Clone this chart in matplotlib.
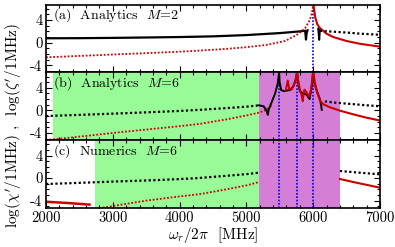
import numpy as np
import matplotlib
matplotlib.use('Agg')
import matplotlib.pyplot as plt
from matplotlib.ticker import MultipleLocator

plt.rcParams['font.family'] = 'serif'
plt.rcParams['font.serif'] = ['cmr10']
plt.rcParams['mathtext.fontset'] = 'cm'
plt.rcParams['axes.unicode_minus'] = False

# ---- data (log scale values) ----
# resonances (blue dotted lines)
res_a = [6000]
res_m6 = [5490, 5760, 6000]

# shaded regions
green_b = (2110, 5190)
green_c = (2730, 5190)
magenta = (5190, 6400)

# panel (a)
a_blk_x = [2000, 2500, 3000, 3500, 4000, 4500, 5000, 5500, 5800, 5880, 5892, 5900, 5915]
a_blk_y = [0.78, 0.80, 0.85, 0.92, 1.00, 1.12, 1.35, 1.70, 2.00, 2.12, 0.55, 1.60, 2.20]
a_red_dot_x = [2000, 2500, 3000, 3500, 4000, 4300, 4700, 5000, 5300, 5580, 5770, 5880, 5950, 5985, 6000]
a_red_dot_y = [-2.6, -2.35, -2.1, -1.85, -1.6, -1.4, -1.1, -0.8, -0.4, 0.3, 1.5, 2.6, 4.0, 5.5, 6.8]
a_red_x = [6002, 6010, 6030, 6060, 6100, 6200, 6300, 6500, 6700, 7000]
a_red_y = [6.8, 6.3, 4.5, 3.3, 2.6, 1.6, 1.0, 0.3, -0.2, -0.7]
a_spike_x = [6075, 6090, 6100]
a_spike_y = [2.5, 0.5, 2.2]
a_blk_dot_x = [6100, 6300, 6500, 6700, 7000]
a_blk_dot_y = [2.1, 1.95, 1.8, 1.6, 1.4]

# panel (b)
b_blk_dot_x = [2000, 2500, 3000, 3500, 4000, 4300, 4700, 5000, 5190]
b_blk_dot_y = [-1.0, -0.8, -0.58, -0.35, -0.1, 0.1, 0.4, 0.65, 0.9]
b_red_dot_x = [2000, 2300, 2700, 3000, 3500, 4000, 4300, 4700, 5000, 5190, 5300, 5380]
b_red_dot_y = [-5.25, -4.9, -4.4, -4.0, -3.4, -2.8, -2.4, -1.6, -0.9, -0.4, 0.1, 0.9]
b_blk_x = [5190, 5260, 5300, 5320, 5335, 5380, 5430, 5470, 5490, 5497, 5520, 5560, 5600,
           5650, 5700, 5740, 5760, 5775, 5800, 5850, 5900, 5930, 5945, 5960, 5985, 6000,
           6005, 6050, 6100, 6118, 6128]
b_blk_y = [0.9, 0.7, 0.0, -0.8, 0.2, 1.5, 3.0, 4.8, 6.8, 5.0, 3.6, 3.4, 3.5,
           3.6, 4.2, 5.5, 6.8, 5.0, 3.4, 3.0, 2.8, 2.3, 2.0, 3.0, 4.8, 6.8,
           5.5, 3.6, 2.0, 1.0, 0.1]
b_red_x = [5590, 5620, 5640, 5680, 5730, 5755, 5765, 5800, 5830, 5843, 5855, 5868, 5900,
           5940, 5970, 5995]
b_red_y = [3.6, 5.3, 3.8, 3.7, 5.0, 6.8, 6.0, 3.8, 2.5, 1.6, 2.8, 3.7, 3.2,
           2.4, 3.8, 6.8]
b_red_x2 = [6003, 6030, 6060, 6100, 6150, 6250, 6400, 6600, 6800, 7000]
b_red_y2 = [6.8, 4.5, 3.2, 1.8, 1.1, 0.55, -0.05, -0.7, -1.3, -1.8]
b_blk_dot2_x = [6175, 6300, 6550, 6800, 7000]
b_blk_dot2_y = [1.6, 1.4, 1.15, 0.9, 0.73]

# panel (c)
c_blk_dot_x = [2000, 2500, 3000, 3700, 4230, 4700, 5000, 5190]
c_blk_dot_y = [-1.05, -0.85, -0.62, -0.34, -0.04, 0.4, 0.7, 0.96]
c_red_dot_x = [2850, 3000, 3500, 4000, 4300, 4700, 5000, 5190]
c_red_dot_y = [-5.25, -4.95, -4.0, -3.25, -2.85, -2.0, -1.3, -0.7]
c_red_left_x = [2000, 2300, 2650]
c_red_left_y = [-4.2, -4.4, -4.7]
c_blk_dot2_x = [6400, 6600, 6800, 7000]
c_blk_dot2_y = [1.26, 1.05, 0.85, 0.67]
c_red2_x = [6400, 6600, 6800, 7000]
c_red2_y = [-0.16, -0.7, -1.2, -1.7]

GREEN = '#98fb98'
MAGENTA = '#d57ed5'
RED = '#cc0000'
BLUE = '#0000ee'

fig = plt.figure(figsize=(3.95, 2.47), dpi=100)
left, right = 46 / 395, 380 / 395
ph = 67.7 / 247
bot = 1 - 207.7 / 247
axs = [fig.add_axes([left, bot + ph * (2 - i), right - left, ph]) for i in range(3)]

blk_dot = dict(color='k', lw=1.6, ls=(0, (1, 1.1)))
red_dot = dict(color=RED, lw=1.3, ls=(0, (1, 1.0)))

for ax in axs:
    ax.set_xlim(2000, 7000)
    ax.set_ylim(-5.25, 6.75)
    ax.set_yticks([-4, 0, 4], ['-4', '0', '4'])
    ax.xaxis.set_major_locator(MultipleLocator(1000))
    ax.xaxis.set_minor_locator(MultipleLocator(200))
    ax.yaxis.set_minor_locator(MultipleLocator(1))
    ax.tick_params(which='both', direction='in', top=True, right=True, labelsize=10.5,
                   width=0.8, pad=2.5)
    ax.tick_params(which='major', length=4)
    ax.tick_params(which='minor', length=2)
    for s in ax.spines.values():
        s.set_linewidth(1.2)

# (a)
ax = axs[0]
for r in res_a:
    ax.axvline(r, color=BLUE, lw=1.2, ls=(0, (1, 1)))
ax.plot(a_blk_x, a_blk_y, color='k', lw=1.6)
ax.plot(a_red_dot_x, a_red_dot_y, **red_dot)
ax.plot(a_red_x, a_red_y, color=RED, lw=1.5)
ax.plot(a_spike_x, a_spike_y, color='k', lw=1.4)
ax.plot(a_blk_dot_x, a_blk_dot_y, **blk_dot)
ax.text(0.021, 0.84, r'(a)  Analytics  $M$=2', transform=ax.transAxes, fontsize=10, va='center')

# (b)
ax = axs[1]
ax.axvspan(*green_b, color=GREEN, lw=0)
ax.axvspan(*magenta, color=MAGENTA, lw=0)
for r in res_m6:
    ax.axvline(r, color=BLUE, lw=1.2, ls=(0, (1, 1)))
ax.plot(b_blk_dot_x, b_blk_dot_y, **blk_dot)
ax.plot(b_red_dot_x, b_red_dot_y, **red_dot)
ax.plot(b_blk_x, b_blk_y, color='k', lw=1.4)
ax.plot(b_red_x, b_red_y, color=RED, lw=1.4)
ax.plot(b_red_x2, b_red_y2, color=RED, lw=1.5)
ax.plot(b_blk_dot2_x, b_blk_dot2_y, **blk_dot)
ax.text(0.021, 0.84, r'(b)  Analytics  $M$=6', transform=ax.transAxes, fontsize=10, va='center')

# (c)
ax = axs[2]
ax.axvspan(*green_c, color=GREEN, lw=0)
ax.axvspan(*magenta, color=MAGENTA, lw=0)
for r in res_m6:
    ax.axvline(r, color=BLUE, lw=1.2, ls=(0, (1, 1)))
ax.plot(c_blk_dot_x, c_blk_dot_y, **blk_dot)
ax.plot(c_red_dot_x, c_red_dot_y, **red_dot)
ax.plot(c_red_left_x, c_red_left_y, color=RED, lw=1.8)
ax.plot(c_blk_dot2_x, c_blk_dot2_y, **blk_dot)
ax.plot(c_red2_x, c_red2_y, color=RED, lw=1.5)
ax.text(0.021, 0.84, r'(c)  Numerics  $M$=6', transform=ax.transAxes, fontsize=10, va='center')

for ax in axs[:2]:
    ax.tick_params(labelbottom=False)

axs[2].set_xlabel(r'$\omega_r/2\pi$  [MHz]', fontsize=11, labelpad=0)
fig.text(0.035, 0.49, r'$\log(\chi^\prime/1{\rm MHz})$ ,  $\log(\zeta^\prime/1{\rm MHz})$',
         rotation=90, ha='center', va='center', fontsize=11)

fig.savefig('out.png', dpi=100)
